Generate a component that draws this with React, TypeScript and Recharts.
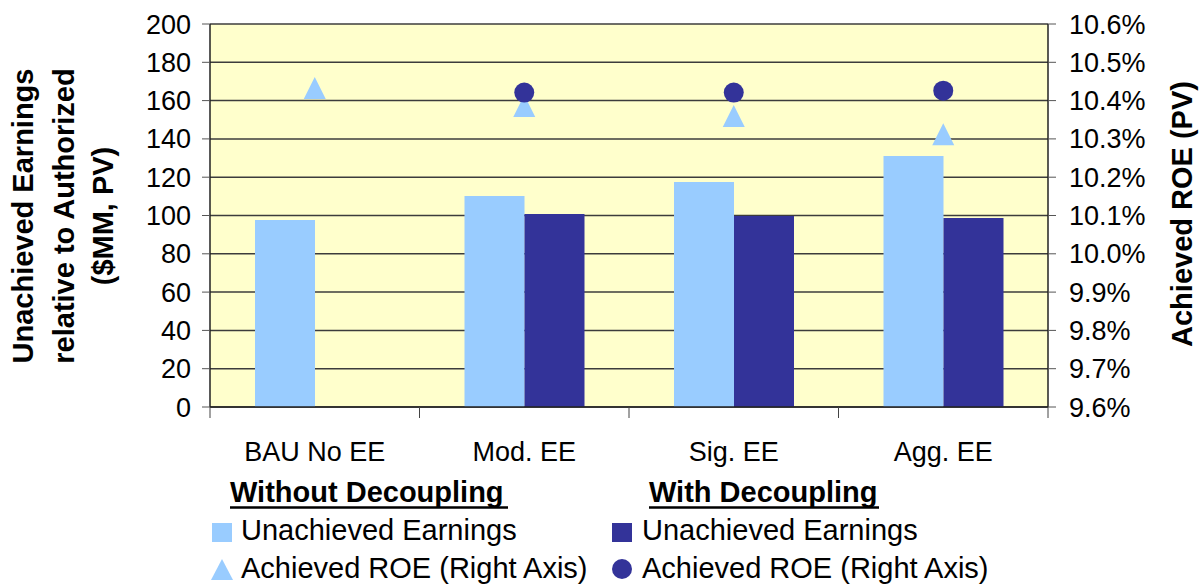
import React from 'react';
import { Bar, CartesianGrid, ComposedChart, Scatter, XAxis, YAxis } from 'recharts';

const categories = ['BAU No EE', 'Mod. EE', 'Sig. EE', 'Agg. EE'];
const earningsNoDecoupling = [97.6, 110.2, 117.5, 131.1];
const earningsDecoupling: (number | null)[] = [null, 100.8, 99.7, 98.7];
const roeNoDecoupling = [10.433, 10.386, 10.36, 10.312];
const roeDecoupling: (number | null)[] = [null, 10.421, 10.421, 10.426];

const leftTicks = [0, 20, 40, 60, 80, 100, 120, 140, 160, 180, 200];
const rightTicks = [9.6, 9.7, 9.8, 9.9, 10.0, 10.1, 10.2, 10.3, 10.4, 10.5, 10.6];

const LIGHT = '#99CCFF';
const DARK = '#333399';
const FONT = '"Liberation Sans", Arial, sans-serif';
const LABEL_GAP = 35;

const data = categories.map((name, i) => ({
  name,
  ueNo: earningsNoDecoupling[i],
  ueWith: earningsDecoupling[i],
  roeNo: roeNoDecoupling[i],
  roeWith: roeDecoupling[i],
}));

const TriangleMark = (p: any) => {
  if (p.cx == null || p.cy == null || p.payload?.roeNo == null) return <g />;
  const { cx, cy } = p;
  return <polygon points={`${cx},${cy - 11} ${cx + 11},${cy + 11} ${cx - 11},${cy + 11}`} fill={LIGHT} />;
};

const CircleMark = (p: any) => {
  if (p.cx == null || p.cy == null || p.payload?.roeWith == null) return <g />;
  return <circle cx={p.cx} cy={p.cy} r={10} fill={DARK} />;
};

// category label + Excel-style tick marks between categories
const CategoryTick = (p: any) => {
  const { x, y, payload, index, visibleTicksCount } = p;
  const half = payload?.offset ?? 0;
  const top = y - LABEL_GAP;
  return (
    <g>
      <line x1={x - half} x2={x - half} y1={top} y2={top + 11} stroke="#444" />
      {index === visibleTicksCount - 1 ? (
        <line x1={x + half} x2={x + half} y1={top} y2={top + 11} stroke="#444" />
      ) : null}
      <text x={x} y={y} dy="0.71em" textAnchor="middle" fontSize={27} fill="#000">
        {payload.value}
      </text>
    </g>
  );
};

function Overlay() {
  const title = { fontSize: 29, fontWeight: 700, fill: '#000', textAnchor: 'middle' as const, dominantBaseline: 'central' as const };
  const leg = { fontSize: 29, fill: '#000' };
  return (
    <svg width={1203} height={584} style={{ position: 'absolute', left: 0, top: 0, pointerEvents: 'none', fontFamily: FONT }}>
      <text x={23} y={216} transform="rotate(-90 23 216)" {...title}>Unachieved Earnings</text>
      <text x={64} y={216} transform="rotate(-90 64 216)" {...title}>relative to Authorized</text>
      <text x={103} y={216} transform="rotate(-90 103 216)" {...title}>($MM, PV)</text>
      <text x={1182} y={214} transform="rotate(-90 1182 214)" {...title}>Achieved ROE (PV)</text>

      <text x={230} y={502} fontSize={29} fontWeight={700}>Without Decoupling</text>
      <line x1={230} x2={508} y1={507.5} y2={507.5} stroke="#000" strokeWidth={2.5} />
      <text x={649} y={502} fontSize={29} fontWeight={700}>With Decoupling</text>
      <line x1={649} x2={879} y1={507.5} y2={507.5} stroke="#000" strokeWidth={2.5} />

      <rect x={212} y={523} width={20} height={19} fill={LIGHT} />
      <text x={241} y={540} {...leg}>Unachieved Earnings</text>
      <polygon points="222,559 233,580 211,580" fill={LIGHT} />
      <text x={241} y={578} {...leg}>Achieved ROE (Right Axis)</text>

      <rect x={612} y={523} width={20} height={19} fill={DARK} />
      <text x={642} y={540} {...leg}>Unachieved Earnings</text>
      <circle cx={622} cy={569} r={10} fill={DARK} />
      <text x={642} y={578} {...leg}>Achieved ROE (Right Axis)</text>
    </svg>
  );
}

export default function App() {
  return (
    <div style={{ position: 'absolute', left: 0, top: 0, width: 1203, height: 584, background: '#fff', fontFamily: FONT }}>
      <ComposedChart width={1203} height={584} data={data} barGap={0} margin={{ top: 24, right: 0, bottom: 0, left: 0 }}>
        <CartesianGrid xAxisId="cat" yAxisId="left" vertical={false} fill="#FFFFCC" fillOpacity={1} stroke="#3c3c3c" strokeWidth={1.5} />
        <XAxis
          xAxisId="cat"
          dataKey="name"
          height={177}
          axisLine={{ stroke: '#222', strokeWidth: 1.5 }}
          tickLine={false}
          tickSize={0}
          tickMargin={LABEL_GAP}
          interval={0}
          tick={CategoryTick}
        />
        <YAxis
          yAxisId="left"
          width={210}
          domain={[0, 200]}
          ticks={leftTicks}
          interval={0}
          tickSize={8}
          tickMargin={11}
          axisLine={{ stroke: '#222', strokeWidth: 1.5 }}
          tickLine={{ stroke: '#555' }}
          tick={{ fontSize: 27, fill: '#000' }}
        />
        <YAxis
          yAxisId="right"
          orientation="right"
          width={155}
          domain={[9.6, 10.6]}
          ticks={rightTicks}
          interval={0}
          allowDataOverflow
          tickSize={8}
          tickMargin={13}
          tickFormatter={(v: number) => `${v.toFixed(1)}%`}
          axisLine={{ stroke: '#222', strokeWidth: 1.5 }}
          tickLine={{ stroke: '#555' }}
          tick={{ fontSize: 27, fill: '#000' }}
        />
        <Bar xAxisId="cat" yAxisId="left" dataKey="ueNo" fill={LIGHT} barSize={60} isAnimationActive={false} />
        <Bar xAxisId="cat" yAxisId="left" dataKey="ueWith" fill={DARK} barSize={60} isAnimationActive={false} />
        <Scatter xAxisId="cat" yAxisId="right" dataKey="roeNo" shape={TriangleMark} isAnimationActive={false} />
        <Scatter xAxisId="cat" yAxisId="right" dataKey="roeWith" shape={CircleMark} isAnimationActive={false} />
      </ComposedChart>
      <Overlay />
    </div>
  );
}
